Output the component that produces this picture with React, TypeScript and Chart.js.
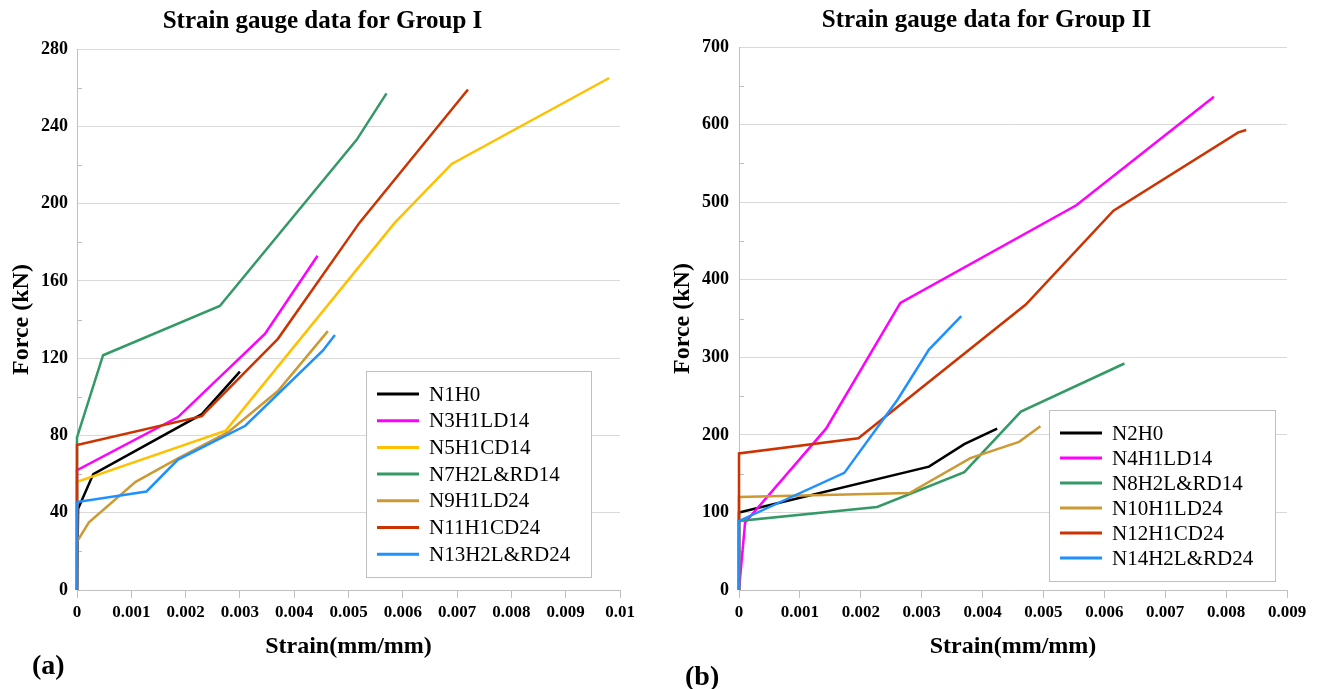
import React, { useEffect, useRef } from "react";
import { Chart, registerables } from "chart.js";

Chart.register(...registerables);

const SERIF = '"Liberation Serif", "Times New Roman", serif';

// ---------- Group I (strain in mm/mm, force in kN) ----------
const groupITitle = "Strain gauge data for Group I";
const groupILabels = ["N1H0", "N3H1LD14", "N5H1CD14", "N7H2L&RD14", "N9H1LD24", "N11H1CD24", "N13H2L&RD24"];
const groupIColors = ["#000000", "#ff00ff", "#ffc000", "#339966", "#cc9933", "#cc3300", "#1e90ff"];

const n1Strain = [0, 0.00002, 0.0003, 0.0023, 0.003];
const n1Force = [0, 42, 60, 91, 113];
const n3Strain = [0, 0, 0.00186, 0.00346, 0.00443];
const n3Force = [0, 62, 89.5, 132.5, 173];
const n5Strain = [0, 0, 0.00274, 0.00585, 0.0069, 0.0098];
const n5Force = [0, 56, 82.5, 190, 220.5, 265];
const n7Strain = [0, 0, 0.00048, 0.00263, 0.00515, 0.0057];
const n7Force = [0, 79, 121.5, 147, 233, 257];
const n9Strain = [0, 0, 0.00022, 0.00108, 0.00185, 0.0028, 0.0037, 0.00462];
const n9Force = [0, 25, 35, 56, 68, 82, 103, 134];
const n11Strain = [0, 0, 0.0023, 0.00238, 0.0037, 0.0052, 0.0072];
const n11Force = [0, 75, 90, 92.5, 130, 190, 259];
const n13Strain = [0, 0, 0.00128, 0.00186, 0.0031, 0.00453, 0.00475];
const n13Force = [0, 45.5, 51, 67.5, 85, 124, 132];

const groupIStrain = [n1Strain, n3Strain, n5Strain, n7Strain, n9Strain, n11Strain, n13Strain];
const groupIForce = [n1Force, n3Force, n5Force, n7Force, n9Force, n11Force, n13Force];

// ---------- Group II ----------
const groupIITitle = "Strain gauge data for Group II";
const groupIILabels = ["N2H0", "N4H1LD14", "N8H2L&RD14", "N10H1LD24", "N12H1CD24", "N14H2L&RD24"];
const groupIIColors = ["#000000", "#ff00ff", "#339966", "#cc9933", "#cc3300", "#1e90ff"];

const n2Strain = [0, 0, 0.00312, 0.0037, 0.00424];
const n2Force = [0, 100, 159, 188, 208];
const n4Strain = [0, 0.0001, 0.00143, 0.00265, 0.00554, 0.0078];
const n4Force = [0, 87, 208, 370, 496, 636];
const n8Strain = [0, 0, 0.00227, 0.0037, 0.00463, 0.00633];
const n8Force = [0, 89, 107, 152, 230, 292];
const n10Strain = [0, 0, 0.0028, 0.0038, 0.0046, 0.00495];
const n10Force = [0, 120, 125, 170, 191, 211];
const n12Strain = [0, 0, 0.00196, 0.00471, 0.00615, 0.0082, 0.00833];
const n12Force = [0, 176, 195.5, 368, 489, 590, 593];
const n14Strain = [0, 0, 0.00173, 0.0026, 0.00312, 0.00365];
const n14Force = [0, 89, 151, 245, 310, 353];

const groupIIStrain = [n2Strain, n4Strain, n8Strain, n10Strain, n12Strain, n14Strain];
const groupIIForce = [n2Force, n4Force, n8Force, n10Force, n12Force, n14Force];

// Axis ranges and tick steps
const groupIXMax = 0.01;
const groupIYMax = 280;
const groupIYStep = 40;
const groupIIXMax = 0.009;
const groupIIYMax = 700;
const groupIIYStep = 100;
const strainStep = 0.001;

const AXIS_GRAY = "#bfbfbf";
const GRID_GRAY = "#d9d9d9";

function buildDatasets(labels: string[], colors: string[], strains: number[][], forces: number[][]) {
  const n = labels.length;
  return labels.map((label, i) => ({
    label,
    data: strains[i].map((x, k) => ({ x, y: forces[i][k] })),
    borderColor: colors[i],
    backgroundColor: colors[i],
    borderWidth: 2.5,
    pointRadius: 0,
    pointHoverRadius: 0,
    showLine: true,
    fill: false,
    tension: 0,
    clip: 4,
    order: n - i, // later series drawn on top
  }));
}

// Chart heading, centred on a fixed x
const panelTitle = {
  id: "panelTitle",
  afterDraw(chart: any, _args: any, opts: any) {
    const { ctx } = chart;
    ctx.save();
    ctx.fillStyle = "#000000";
    ctx.font = opts.font;
    ctx.textAlign = "center";
    ctx.textBaseline = "middle";
    ctx.fillText(opts.text, opts.cx, opts.cy);
    ctx.restore();
  },
};

// Legend drawn as a framed box inside the plot
const boxLegend = {
  id: "boxLegend",
  afterDatasetsDraw(chart: any, _args: any, opts: any) {
    const { ctx } = chart;
    ctx.save();
    ctx.fillStyle = "#ffffff";
    ctx.fillRect(opts.x, opts.y, opts.w, opts.h);
    ctx.strokeStyle = AXIS_GRAY;
    ctx.lineWidth = 1;
    ctx.strokeRect(Math.round(opts.x) + 0.5, Math.round(opts.y) + 0.5, opts.w, opts.h);
    chart.data.datasets.forEach((ds: any, i: number) => {
      const cy = opts.rowStart + i * opts.rowGap;
      ctx.strokeStyle = ds.borderColor;
      ctx.lineWidth = 3;
      ctx.beginPath();
      ctx.moveTo(opts.lineX1, cy);
      ctx.lineTo(opts.lineX2, cy);
      ctx.stroke();
      ctx.fillStyle = "#000000";
      ctx.font = opts.font;
      ctx.textBaseline = "middle";
      ctx.textAlign = "left";
      ctx.fillText(ds.label, opts.textX, cy + 1);
    });
    ctx.restore();
  },
};

// Short inside tick marks halfway between the major force ticks
const minorTicks = {
  id: "minorTicks",
  beforeDatasetsDraw(chart: any) {
    const s = chart.scales.y;
    const { ctx, chartArea } = chart;
    const vals = s.ticks.map((t: any) => t.value);
    ctx.save();
    ctx.strokeStyle = AXIS_GRAY;
    ctx.lineWidth = 1;
    for (let i = 0; i < vals.length - 1; i++) {
      const py = Math.round(s.getPixelForValue((vals[i] + vals[i + 1]) / 2)) + 0.5;
      ctx.beginPath();
      ctx.moveTo(chartArea.left, py);
      ctx.lineTo(chartArea.left + 5, py);
      ctx.stroke();
    }
    ctx.restore();
  },
};

type Cfg = {
  title: string;
  titleX: number;
  titleY: number;
  datasets: any[];
  xMax: number;
  yMax: number;
  yStep: number;
  plotTop: number;
  yWidth: number;
  yTitlePad: number;
  yTickPad: number;
  rightPad: number;
  legend: any;
};

const CANVAS_H = 689;
const PLOT_BOTTOM = 590;

function makeConfig(c: Cfg): any {
  return {
    type: "scatter",
    data: { datasets: c.datasets },
    plugins: [minorTicks, boxLegend, panelTitle],
    options: {
      responsive: false,
      animation: false,
      events: [],
      layout: { padding: { left: 0, right: c.rightPad, top: c.plotTop, bottom: 0 } },
      plugins: {
        legend: { display: false },
        tooltip: { enabled: false },
        title: { display: false },
        panelTitle: {
          text: c.title,
          cx: c.titleX,
          cy: c.titleY,
          font: `bold 25px ${SERIF}`,
        },
        boxLegend: c.legend,
      },
      scales: {
        x: {
          type: "linear",
          min: 0,
          max: c.xMax,
          afterFit: (scale: any) => {
            scale.height = CANVAS_H - PLOT_BOTTOM;
          },
          ticks: {
            stepSize: strainStep,
            autoSkip: false,
            maxRotation: 0,
            color: "#000000",
            padding: 4,
            font: { family: SERIF, size: 17, weight: "bold" },
            callback: (v: any) => String(+Number(v).toFixed(3)),
          },
          grid: { drawOnChartArea: false, drawTicks: true, tickLength: 8, color: AXIS_GRAY },
          border: { display: true, color: AXIS_GRAY, width: 1 },
          title: {
            display: true,
            text: "Strain(mm/mm)",
            color: "#000000",
            font: { family: SERIF, size: 24, weight: "bold" },
            padding: { top: 0, bottom: 28 },
          },
        },
        y: {
          type: "linear",
          min: 0,
          max: c.yMax,
          afterFit: (scale: any) => {
            scale.width = c.yWidth;
          },
          ticks: {
            stepSize: c.yStep,
            color: "#000000",
            padding: c.yTickPad,
            font: { family: SERIF, size: 18, weight: "bold" },
          },
          grid: { drawTicks: false, color: GRID_GRAY, lineWidth: 1 },
          border: { display: true, color: AXIS_GRAY, width: 1 },
          title: {
            display: true,
            text: "Force (kN)",
            color: "#000000",
            font: { family: SERIF, size: 24, weight: "bold" },
            padding: { top: c.yTitlePad, bottom: 0 },
          },
        },
      },
    },
  };
}

function GaugeChart({ left, width, cfg }: { left: number; width: number; cfg: any }) {
  const ref = useRef<HTMLCanvasElement | null>(null);
  useEffect(() => {
    if (!ref.current) return;
    const chart = new Chart(ref.current, cfg);
    return () => chart.destroy();
  }, [cfg]);
  return (
    <canvas
      ref={ref}
      width={width}
      height={CANVAS_H}
      style={{ position: "absolute", left, top: 0, width, height: CANVAS_H }}
    />
  );
}

const legendFont = `21px ${SERIF}`;

const cfgI = makeConfig({
  title: groupITitle,
  titleX: 322.5,
  titleY: 21.5,
  datasets: buildDatasets(groupILabels, groupIColors, groupIStrain, groupIForce),
  xMax: groupIXMax,
  yMax: groupIYMax,
  yStep: groupIYStep,
  plotTop: 49,
  yWidth: 77,
  yTitlePad: 7.6,
  yTickPad: 9,
  rightPad: 25,
  legend: {
    x: 366,
    y: 371,
    w: 225,
    h: 206,
    rowStart: 394,
    rowGap: 26.7,
    lineX1: 377,
    lineX2: 419,
    textX: 429,
    font: legendFont,
  },
});

const cfgII = makeConfig({
  title: groupIITitle,
  titleX: 326.5,
  titleY: 21,
  datasets: buildDatasets(groupIILabels, groupIIColors, groupIIStrain, groupIIForce),
  xMax: groupIIXMax,
  yMax: groupIIYMax,
  yStep: groupIIYStep,
  plotTop: 47,
  yWidth: 79,
  yTitlePad: 8.6,
  yTickPad: 10,
  rightPad: 26,
  legend: {
    x: 389,
    y: 410,
    w: 226,
    h: 171,
    rowStart: 433,
    rowGap: 25,
    lineX1: 400,
    lineX2: 442,
    textX: 452,
    font: legendFont,
  },
});

const panelLabel: React.CSSProperties = {
  position: "absolute",
  fontFamily: SERIF,
  fontWeight: "bold",
  fontSize: 28,
  lineHeight: "28px",
  color: "#000000",
};

export default function App() {
  return (
    <div
      style={{
        position: "absolute",
        left: 0,
        top: 0,
        width: 1317,
        height: 689,
        background: "#ffffff",
        overflow: "hidden",
      }}
    >
      <GaugeChart left={0} width={645} cfg={cfgI} />
      <GaugeChart left={660} width={653} cfg={cfgII} />
      <div style={{ ...panelLabel, left: 32, top: 651 }}>(a)</div>
      <div style={{ ...panelLabel, left: 685, top: 662 }}>(b)</div>
    </div>
  );
}
